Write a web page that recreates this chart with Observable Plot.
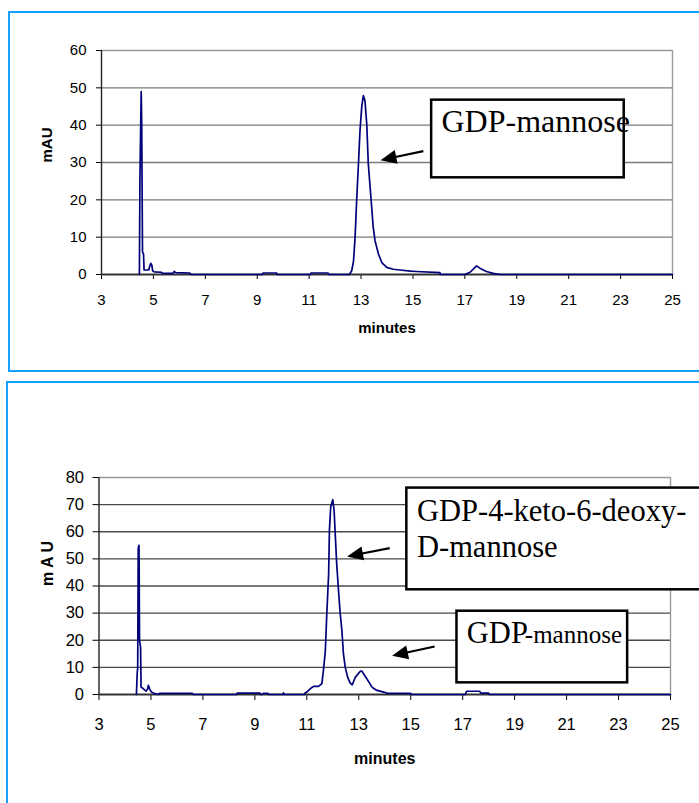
<!DOCTYPE html>
<html><head><meta charset="utf-8">
<script src="https://cdn.jsdelivr.net/npm/d3@7"></script>
<script src="https://cdn.jsdelivr.net/npm/@observablehq/plot@0.6"></script>
<style>
html,body{margin:0;padding:0;background:#fff;overflow:hidden;}
#wrap{position:relative;width:699px;height:803px;overflow:hidden;background:#fff;}
.panel{position:absolute;box-sizing:border-box;border:2px solid #14a0ff;}
.chart{position:absolute;left:0;}
</style></head><body>
<div id="wrap">
 <div class="panel" style="left:8px;top:11px;width:760px;height:361px"></div>
 <div class="panel" style="left:6px;top:381px;width:760px;height:500px"></div>
 <div class="chart" id="c1" style="top:0"></div>
 <div class="chart" id="c2" style="top:380px"></div>
</div>
<script>
// ---- data: chromatogram 1 (GDP-mannose standard) ----
const minutes1 = [4.46,4.48,4.51,4.53,4.55,4.58,4.62,4.64,4.82,4.86,4.9,4.94,4.97,5.03,5.3,5.35,5.75,5.8,5.86,6.4,6.45,
  9.2,9.22,9.75,9.77,11.05,11.07,11.73,11.75,12.55,12.64,12.71,12.77,12.83,12.9,12.96,13.03,13.09,13.15,13.22,13.28,
  13.35,13.41,13.47,13.54,13.67,13.8,13.99,14.24,14.5,14.9,15.14,16.04,16.06,17.0,17.2,17.45,17.58,17.83,18.09,18.35,25];
const mau1 = [0,25,40,49,40,6,5.5,1.2,1.2,2.2,3,2.5,1,0.7,0.6,0.3,0.3,0.8,0.5,0.4,0,
  0,0.4,0.4,0,0,0.4,0.4,0,0,1,3.6,9.9,19.7,29.6,38.5,45.2,47.9,46.6,40.3,29.6,
  23.3,18,12.6,9,5.5,3.2,1.9,1.4,1.2,0.9,0.8,0.5,0,0,0.6,2.3,1.7,0.8,0.3,0,0];

// ---- data: chromatogram 2 (reaction mixture) ----
const minutes2 = [4.44,4.47,4.49,4.51,4.54,4.56,4.6,4.62,4.71,4.81,4.87,4.9,4.96,5.02,5.15,5.3,5.32,6.6,6.62,
  8.3,8.32,9.2,9.22,9.3,9.32,9.5,9.52,10.08,10.1,10.14,10.9,10.92,11.0,11.13,11.26,11.45,11.58,11.64,11.71,11.77,
  11.84,11.87,11.92,12.0,12.05,12.1,12.15,12.22,12.28,12.35,12.41,12.48,12.57,12.67,12.75,12.87,13.06,13.12,13.31,
  13.51,13.7,13.96,14.1,15.0,15.02,17.1,17.15,17.65,17.7,18.0,18.02,25];
const mau2 = [0,7.7,10,54,55,20,17.5,2.7,2.1,1.2,2,3.4,1.8,0.9,0.3,0,0.4,0.4,0,
  0,0.5,0.5,0,0,0.4,0.4,0,0,0.6,0,0,0.5,0.9,2.1,3,3,4,9,15.6,29.8,
  44.5,60.5,69.1,71.8,67.9,58,48.2,38.4,30.4,23.6,15,10,6.4,4.2,3.6,6.4,8.6,8.6,5.8,
  2.7,1.5,0.9,0.4,0.4,0,0,1.2,1.2,0.5,0.5,0,0];

// ---- ticks ----
const xTicks = [3,5,7,9,11,13,15,17,19,21,23,25];
const yTicks1 = [0,10,20,30,40,50,60];
const yTicks2 = [0,10,20,30,40,50,60,70,80];
const xTitle = "minutes";
const yTitle1 = "mAU";
const yTitle2 = "m A U";

// ---- annotations (in data units: minutes / mAU) ----
const boxes1 = [{x1: 15.72, x2: 23.14, y1: 25.9, y2: 46.7}];
const notes1 = [{x: 16.1, y: 38.1, text: "GDP-mannose"}];
const arrows1 = [{x1: 15.42, y1: 32.9, x2: 13.77, y2: 30.5}];

const boxes2 = [{x1: 14.85, x2: 28, y1: 38.6, y2: 76.1}, {x1: 16.78, x2: 23.35, y1: 4.3, y2: 30.7}];
const notes2big = [{x: 15.24, y: 63.8, text: "GDP-4-keto-6-deoxy-"}, {x: 15.24, y: 50.7, text: "D-mannose"}, {x: 17.16, y: 18.9, text: "GDP"}];
const notes2small = [{x: 17.16, y: 18.9, text: "-mannose"}];
const arrows2 = [{x1: 14.21, y1: 53.8, x2: 12.57, y2: 50.7}, {x1: 15.94, y1: 17.5, x2: 14.3, y2: 14.1}];

function arrowMark(list) {
  return (index, scales) => {
    const ns = "http://www.w3.org/2000/svg";
    const g = document.createElementNS(ns, "g");
    for (const a of list) {
      const x1 = scales.x(a.x1), y1 = scales.y(a.y1), x2 = scales.x(a.x2), y2 = scales.y(a.y2);
      const dx = x2 - x1, dy = y2 - y1, L = Math.hypot(dx, dy), ux = dx / L, uy = dy / L;
      const hl = 16, hw = 7;
      const bx = x2 - ux * hl, by = y2 - uy * hl;
      const ln = document.createElementNS(ns, "line");
      ln.setAttribute("x1", x1); ln.setAttribute("y1", y1);
      ln.setAttribute("x2", bx + ux * 2); ln.setAttribute("y2", by + uy * 2);
      ln.setAttribute("stroke", "#000"); ln.setAttribute("stroke-width", 2.2);
      g.appendChild(ln);
      const p = document.createElementNS(ns, "polygon");
      p.setAttribute("points", `${x2},${y2} ${bx - uy * hw},${by + ux * hw} ${bx + uy * hw},${by - ux * hw}`);
      p.setAttribute("fill", "#000");
      g.appendChild(p);
    }
    return g;
  };
}

const trace1 = minutes1.map((m, i) => ({m, v: mau1[i]}));
const trace2 = minutes2.map((m, i) => ({m, v: mau2[i]}));

const baseStyle = {fontFamily: "'Liberation Sans', Arial, sans-serif", color: "#000", background: "transparent", overflow: "visible"};

const chart1 = Plot.plot({
  width: 699, height: 375,
  marginLeft: 101, marginRight: 27, marginTop: 50, marginBottom: 101,
  x: {domain: [3, 25], ticks: xTicks, tickSize: 5, tickPadding: 15, label: null},
  y: {domain: [0, 60], ticks: yTicks1, tickSize: 5, tickPadding: 10, label: null},
  style: {...baseStyle, fontSize: "15px"},
  marks: [
    Plot.ruleY(yTicks1.filter(d => d > 0 && d < 60), {stroke: "#7a7a7a", strokeWidth: 1.4}),
    Plot.ruleY([60], {stroke: "#9a9a9a", strokeWidth: 1.4}),
    Plot.ruleX([25], {stroke: "#9a9a9a", strokeWidth: 1.4}),
    Plot.ruleX([3], {stroke: "#222", strokeWidth: 1.4}),
    Plot.ruleY([0], {stroke: "#333", strokeWidth: 2}),
    Plot.line(trace1, {x: "m", y: "v", stroke: "#00007a", strokeWidth: 1.7}),
    Plot.rect(boxes1, {x1: "x1", x2: "x2", y1: "y1", y2: "y2", fill: "#fff", stroke: "#000", strokeWidth: 2.5}),
    Plot.text(notes1, {x: "x", y: "y", text: "text", textAnchor: "start", lineAnchor: "bottom", fontSize: 32, fontFamily: "'Liberation Serif', 'Times New Roman', serif", fill: "#000"}),
    arrowMark(arrows1),
    Plot.text([yTitle1], {text: d => d, frameAnchor: "left", dx: -54, rotate: -90, fontWeight: "bold", fontSize: 15}),
    Plot.text([xTitle], {text: d => d, frameAnchor: "bottom", dy: 58, fontWeight: "bold", fontSize: 15})
  ]
});
document.getElementById("c1").appendChild(chart1);

const chart2 = Plot.plot({
  width: 699, height: 423,
  marginLeft: 98.5, marginRight: 29, marginTop: 97, marginBottom: 109,
  x: {domain: [3, 25], ticks: xTicks, tickSize: 6, tickPadding: 18, label: null},
  y: {domain: [0, 80], ticks: yTicks2, tickSize: 6, tickPadding: 9, label: null},
  style: {...baseStyle, fontSize: "16.5px"},
  marks: [
    Plot.ruleY(yTicks2.filter(d => d > 0 && d < 80), {stroke: "#4a4a4a", strokeWidth: 1.4}),
    Plot.ruleY([80], {stroke: "#9a9a9a", strokeWidth: 1.4}),
    Plot.ruleX([25], {stroke: "#9a9a9a", strokeWidth: 1.4}),
    Plot.ruleX([3], {stroke: "#222", strokeWidth: 1.4}),
    Plot.ruleY([0], {stroke: "#333", strokeWidth: 2}),
    Plot.line(trace2, {x: "m", y: "v", stroke: "#00007a", strokeWidth: 1.7}),
    Plot.rect(boxes2, {x1: "x1", x2: "x2", y1: "y1", y2: "y2", fill: "#fff", stroke: "#000", strokeWidth: 2.5}),
    Plot.text(notes2big, {x: "x", y: "y", text: "text", textAnchor: "start", lineAnchor: "bottom", fontSize: 30.5, fontFamily: "'Liberation Serif', 'Times New Roman', serif", fill: "#000"}),
    Plot.text(notes2small, {x: "x", y: "y", text: "text", textAnchor: "start", lineAnchor: "bottom", dx: 58, fontSize: 25, fontFamily: "'Liberation Serif', 'Times New Roman', serif", fill: "#000"}),
    arrowMark(arrows2),
    Plot.text([yTitle2], {text: d => d, frameAnchor: "left", dx: -51.5, rotate: -90, fontWeight: "bold", fontSize: 16}),
    Plot.text([xTitle], {text: d => d, frameAnchor: "bottom", dy: 69, fontWeight: "bold", fontSize: 16})
  ]
});
document.getElementById("c2").appendChild(chart2);
</script>
</body></html>
